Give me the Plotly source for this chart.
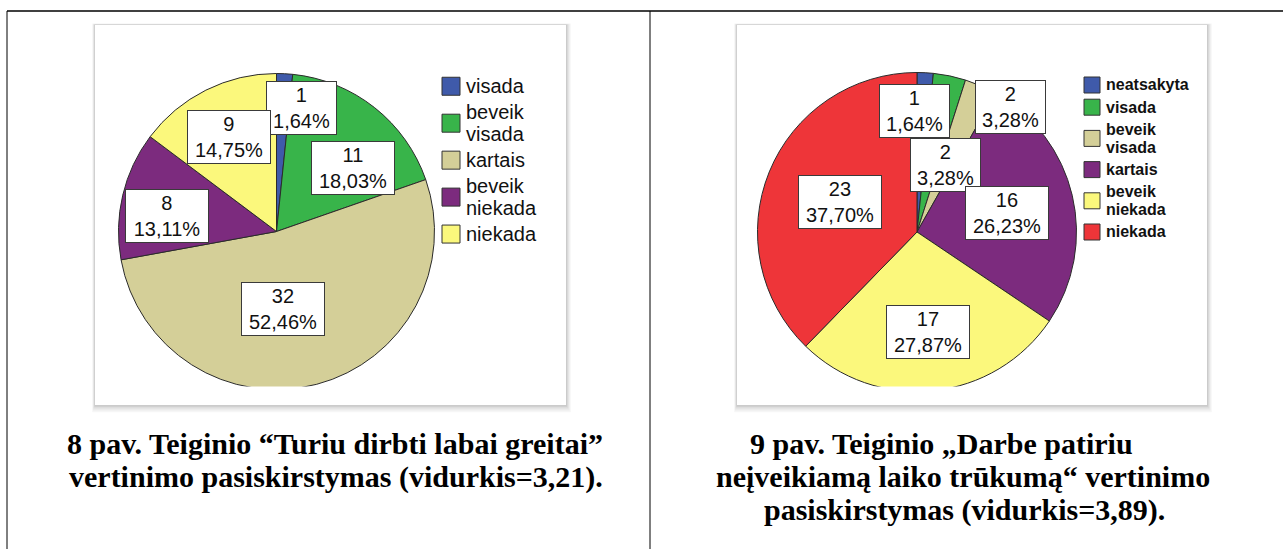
import math
import plotly.graph_objects as go

W, H = 1283, 549

# ---------------- data ----------------
left_labels = ["visada", "beveik visada", "kartais", "beveik niekada", "niekada"]
left_values = [1, 11, 32, 8, 9]

right_labels = ["neatsakyta", "visada", "beveik visada", "kartais", "beveik niekada", "niekada"]
right_values = [1, 2, 2, 16, 17, 23]

left_caption = ["8 pav. Teiginio “Turiu dirbti labai greitai”",
                "vertinimo pasiskirstymas (vidurkis=3,21)."]
right_caption = ["9 pav. Teiginio „Darbe patiriu",
                 "neįveikiamą laiko trūkumą“ vertinimo",
                 "pasiskirstymas (vidurkis=3,89)."]

# ---------------- styles ----------------
BLUE, GREEN, TAN, PURPLE, YELLOW, RED = "#3F5AAA", "#38B44A", "#D4CF98", "#7C2B7E", "#FBF87C", "#EE3539"
left_colors = [BLUE, GREEN, TAN, PURPLE, YELLOW]
right_colors = [BLUE, GREEN, TAN, PURPLE, YELLOW, RED]

# label placement tweaks (radius fraction, angle nudge in degrees)
left_label_place = [(0.80, 8.3), (0.63, 12.3), (0.49, 10.0), (0.70, -5.4), (0.67, 0.0)]
right_label_place = [(0.76, -3.9), (0.455, 11.0), (0.975, 13.2), (0.576, 1.6), (0.633, -0.5), (0.52, -1.0)]


def px(x):
    return x / W


def py(y):
    return 1 - y / H


fig = go.Figure()
shapes = []
annotations = []

# table borders
shapes.append(dict(type="line", xref="paper", yref="paper", x0=px(7), x1=px(1283), y0=py(11), y1=py(11),
                   line=dict(color="#000", width=1.6)))
for xv in (7, 650):
    shapes.append(dict(type="line", xref="paper", yref="paper", x0=px(xv), x1=px(xv), y0=py(11), y1=py(549),
                       line=dict(color="#000", width=1)))

# image boxes with soft shadow
for (bx0, by0, bx1, by1) in [(95, 25, 566, 405), (737, 25, 1207, 405)]:
    for k, op in enumerate([0.035, 0.045, 0.06, 0.08]):
        g = 4 - k
        shapes.append(dict(type="rect", xref="paper", yref="paper", layer="below",
                           x0=px(bx0 - g * 0.7), x1=px(bx1 + g * 1.2), y0=py(by0 - g * 0.4), y1=py(by1 + g * 1.8),
                           fillcolor=f"rgba(0,0,0,{op})", line=dict(width=0)))
    shapes.append(dict(type="rect", xref="paper", yref="paper", layer="below",
                       x0=px(bx0), x1=px(bx1), y0=py(by0), y1=py(by1),
                       fillcolor="white", line=dict(width=0)))
    # the chart image crops the bottom of the pie
    shapes.append(dict(type="rect", xref="paper", yref="paper", layer="above",
                       x0=px(bx0 + 1), x1=px(bx1 - 1), y0=py(by1 - 0.5), y1=py(386.5),
                       fillcolor="white", line=dict(width=0)))


def add_pie(labels, values, colors, cx, cy, R, place, legend_x, legend_top, leg_font, leg_bold,
            line_h, gap, sq):
    fig.add_trace(go.Pie(
        labels=labels, values=values, sort=False, direction="clockwise", rotation=0,
        marker=dict(colors=colors, line=dict(color="#2b2b2b", width=1)),
        textinfo="none", hoverinfo="label+value+percent", showlegend=False,
        domain=dict(x=[px(cx - R), px(cx + R)], y=[py(cy + R), py(cy - R)]),
    ))
    total = sum(values)
    cum = 0
    for v, (rf, dth) in zip(values, place):
        mid = (cum + v / 2) / total * 360 + dth
        cum += v
        pct = f"{v / total * 100:.2f}".replace(".", ",") + "%"
        r = rf * R
        annotations.append(dict(
            x=px(cx), y=py(cy), xref="paper", yref="paper", showarrow=False,
            xanchor="center", yanchor="middle",
            xshift=r * math.sin(math.radians(mid)), yshift=r * math.cos(math.radians(mid)),
            text=f"{v}<br>{pct}", align="center",
            font=dict(family="Arial, Liberation Sans, sans-serif", size=20, color="#111"),
            bgcolor="white", bordercolor="#3a3a3a", borderwidth=1, borderpad=1,
            width=13 * len(pct) + 2, height=50,
        ))
    # legend
    y = legend_top
    for lab, col in zip(labels, colors):
        lines = lab.split(" ")
        h = len(lines) * line_h
        mid_y = y + h / 2
        shapes.append(dict(type="rect", xref="paper", yref="paper",
                           x0=px(legend_x), x1=px(legend_x + sq), y0=py(mid_y + sq / 2), y1=py(mid_y - sq / 2),
                           fillcolor=col, line=dict(color="#333", width=1)))
        for i, ln in enumerate(lines):
            annotations.append(dict(
                x=px(legend_x + sq + 4), y=py(y + line_h * (i + 0.5)), xref="paper", yref="paper",
                xanchor="left", yanchor="middle", showarrow=False, text=ln,
                font=dict(family="Arial, Liberation Sans, sans-serif", size=leg_font, color="#111",
                          weight="bold" if leg_bold else "normal"),
            ))
        y += h + gap


add_pie(left_labels, left_values, left_colors, 276.5, 231.5, 158, left_label_place,
        442, 75, 20, False, 22.5, 3.2, 18)
add_pie(right_labels, right_values, right_colors, 917, 232, 159.5, right_label_place,
        1084, 76, 16, True, 18, 4.2, 16)

# captions
cap_font = dict(family="Liberation Serif, Times New Roman, serif", size=30, color="#000", weight="bold")
for txt, (xc, yc) in zip(left_caption, [(335, 443), (336, 476.5)]):
    annotations.append(dict(x=px(xc), y=py(yc), xref="paper", yref="paper", showarrow=False,
                            xanchor="center", yanchor="middle", text=txt, font=cap_font))
for txt, (xc, yc) in zip(right_caption, [(941, 443), (963, 476.5), (964, 510)]):
    annotations.append(dict(x=px(xc), y=py(yc), xref="paper", yref="paper", showarrow=False,
                            xanchor="center", yanchor="middle", text=txt, font=cap_font))

fig.update_layout(
    width=W, height=H, margin=dict(l=0, r=0, t=0, b=0),
    paper_bgcolor="white", plot_bgcolor="white", showlegend=False,
    shapes=shapes, annotations=annotations,
)

fig.write_html("out.html", config={"displayModeBar": False},
               post_script="document.body.style.margin='0';document.body.style.overflow='hidden';")
